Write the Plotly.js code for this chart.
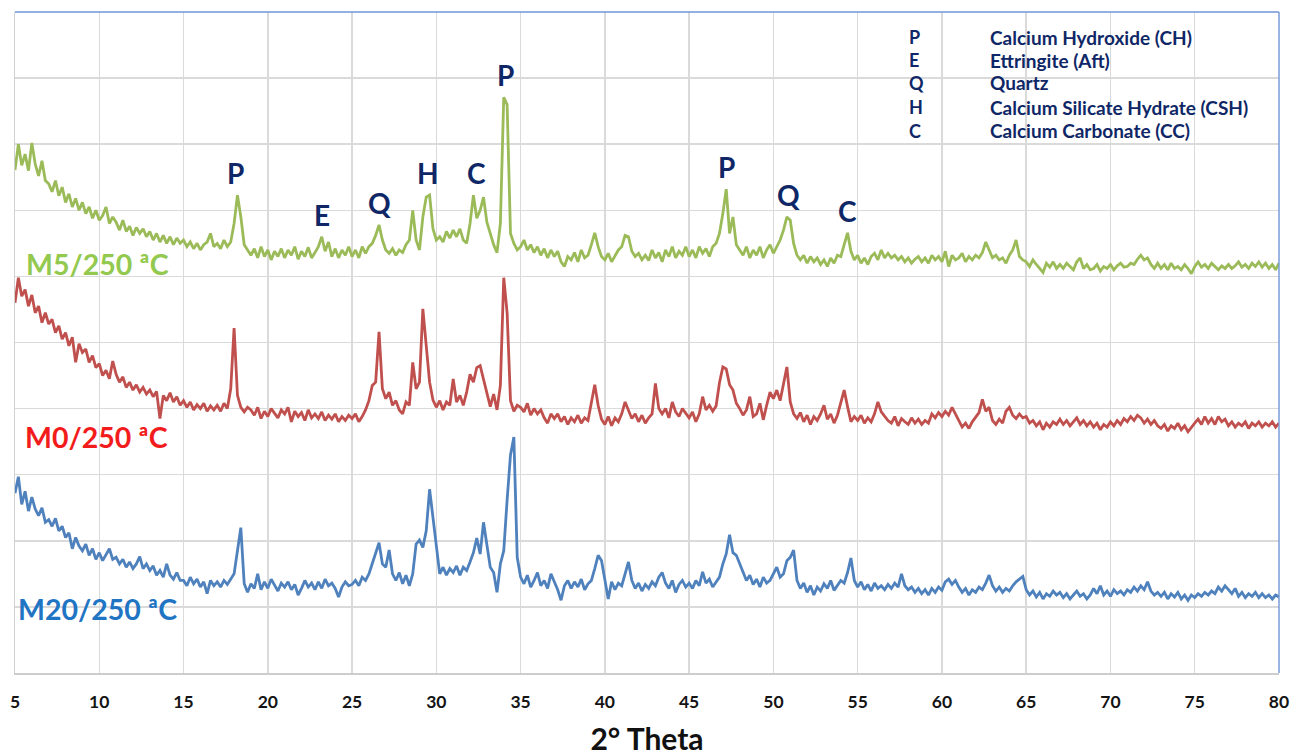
<!DOCTYPE html>
<html>
<head>
<meta charset="utf-8">
<script src="https://cdn.plot.ly/plotly-3.0.1.min.js"></script>
<style>
  html, body { margin: 0; padding: 0; background: #ffffff; }
  #chart { width: 1293px; height: 756px; }
</style>
</head>
<body>
<div id="chart"></div>
<script>
// XRD patterns of the three mixes after exposure to 250 °C.
// Intensities are relative (arbitrary units), sampled every 0.2° of 2θ from 5° to 80°.
const START_ANGLE = 5;
const STEP = 0.2;

const m5 = [
  761,800,768,785,760,802,770,752,775,745,
  740,728,745,722,735,712,725,705,718,700,
  712,695,705,688,700,685,692,705,680,690,
  682,670,685,668,676,662,674,665,672,660,
  668,655,665,652,662,650,660,648,658,650,
  655,645,652,642,650,640,648,652,665,645,
  650,642,655,645,652,680,723,690,648,640,
  632,642,628,645,630,640,625,638,630,642,
  628,640,632,645,626,638,630,644,628,636,
  645,660,638,652,630,642,628,640,632,645,
  630,640,628,645,635,645,650,662,678,655,
  640,635,642,632,640,636,648,655,700,655,
  640,690,720,723,672,655,660,652,668,658,
  670,660,672,655,650,680,723,688,700,720,
  682,665,648,636,680,871,860,665,650,640,
  645,655,640,648,636,645,632,642,628,640,
  630,638,622,615,630,625,636,622,640,628,
  632,648,666,645,630,625,635,622,632,640,
  645,662,660,638,630,635,625,632,624,640,
  628,636,622,640,630,645,628,638,632,645,
  630,640,628,645,635,642,630,645,650,665,
  695,732,665,690,648,640,632,645,628,640,
  632,645,628,640,648,635,645,655,670,690,
  685,650,632,625,632,620,630,622,628,618,
  625,615,628,620,632,630,648,666,638,625,
  632,620,628,618,630,635,625,640,628,635,
  628,632,625,630,622,628,620,626,630,622,
  628,620,632,625,630,622,638,615,632,625,
  628,635,622,630,625,632,628,636,652,640,
  628,632,625,628,620,632,640,655,630,625,
  622,615,625,618,612,606,620,614,622,612,
  618,612,620,615,610,622,628,612,618,610,
  612,618,608,615,612,618,610,616,620,614,
  615,620,618,626,632,625,628,618,612,620,
  612,618,610,620,612,615,610,618,612,604,
  615,622,614,618,612,620,615,610,616,612,
  618,612,616,622,614,618,612,620,615,622,
  614,620,612,618,610,620
];

const m0 = [
  560,598,570,580,555,572,545,555,530,545,
  528,535,515,525,505,515,495,508,470,498,
  485,490,470,480,462,468,450,458,445,472,
  452,440,448,432,440,428,436,425,432,422,
  428,418,426,385,420,412,424,410,418,405,
  412,402,410,398,406,400,408,396,404,398,
  405,396,408,400,430,522,420,402,395,402,
  398,390,402,385,396,388,400,392,386,398,
  392,402,380,396,388,394,382,398,386,392,
  385,395,382,390,384,392,380,388,382,390,
  385,392,380,388,398,412,435,440,516,430,
  415,425,405,412,398,392,410,405,470,430,
  440,551,500,440,413,402,412,398,410,405,
  445,410,420,405,425,452,440,462,465,445,
  424,403,422,398,435,598,545,412,396,405,
  402,395,408,390,400,392,398,386,378,392,
  385,392,380,388,376,386,380,390,378,386,
  382,410,436,405,384,376,388,374,386,380,
  392,410,398,385,392,380,390,378,386,392,
  438,400,392,400,386,410,395,388,400,392,
  386,395,380,392,418,398,405,396,404,439,
  463,460,436,428,408,400,390,398,418,388,
  392,408,383,405,425,415,428,412,440,463,
  410,392,385,394,380,390,376,388,382,392,
  405,384,392,378,390,410,428,403,380,388,
  382,390,378,386,380,392,410,395,388,382,
  378,388,374,385,380,376,386,378,384,376,
  382,378,392,386,394,388,396,390,402,392,
  380,372,378,370,380,388,394,414,396,402,
  382,376,384,378,396,402,390,385,392,386,
  388,378,382,374,380,368,378,372,380,376,
  384,376,382,374,380,386,376,382,374,380,
  372,378,368,376,372,380,374,382,376,385,
  380,388,382,390,386,378,384,376,382,374,
  370,376,366,374,370,378,368,374,365,372,
  378,384,376,388,378,385,376,388,380,384,
  374,380,372,378,374,380,370,378,374,380,
  372,378,374,380,372,378
];

const m20 = [
  272,297,255,275,245,266,248,238,250,228,
  232,222,234,215,222,205,212,188,205,192,
  185,195,178,188,172,182,170,178,188,172,
  175,165,172,160,168,158,165,176,158,165,
  155,162,148,155,145,165,148,142,152,140,
  140,132,145,135,142,130,138,120,140,132,
  138,130,140,134,142,150,185,220,135,122,
  135,128,150,126,138,128,142,132,124,136,
  130,138,126,134,118,128,140,130,136,126,
  138,128,142,132,136,128,115,130,138,132,
  134,140,132,145,140,150,165,182,197,165,
  160,186,150,140,152,135,148,132,150,195,
  201,190,215,278,236,185,150,160,148,158,
  152,162,148,160,155,168,182,204,180,228,
  190,160,152,122,165,185,262,330,357,175,
  145,135,148,130,140,152,132,140,128,150,
  138,126,110,132,140,128,138,130,142,126,
  135,140,158,178,170,140,112,138,126,136,
  132,150,168,140,128,136,124,134,128,138,
  132,145,152,136,128,140,122,134,140,130,
  136,128,140,132,153,136,142,130,138,145,
  165,180,209,182,178,165,150,140,148,134,
  142,130,145,136,140,150,160,145,150,170,
  175,186,140,128,136,122,132,118,130,124,
  135,128,140,125,132,140,136,152,174,140,
  130,138,126,134,124,136,128,132,126,134,
  128,136,130,150,132,126,130,122,128,120,
  126,118,128,122,130,125,138,142,134,140,
  130,122,128,118,126,122,130,126,136,148,
  132,124,130,122,128,124,132,138,142,146,
  126,118,124,115,122,112,120,116,124,118,
  122,114,120,112,118,124,116,120,112,118,
  128,120,132,118,124,116,126,120,124,118,
  126,122,130,124,132,126,138,124,118,122,
  116,122,112,120,115,122,112,118,110,118,
  114,120,116,122,118,124,120,130,124,132,
  126,120,128,116,122,114,120,116,122,114,
  120,114,118,112,118,115
];

const seriesNames = ['M5/250 ªC', 'M0/250 ªC', 'M20/250 ªC'];

// Phase identification marks above the M5 pattern
const phaseLetters = ['P', 'E', 'Q', 'H', 'C', 'P', 'P', 'Q', 'C'];
const phaseAngles  = [18.1, 23.2, 26.6, 29.5, 32.4, 34.1, 47.2, 50.9, 54.4];

// Key of the phase letters
const keyLetters = ['P', 'E', 'Q', 'H', 'C'];
const keyPhases  = ['Calcium Hydroxide (CH)', 'Ettringite (Aft)', 'Quartz',
                    'Calcium Silicate Hydrate (CSH)', 'Calcium Carbonate (CC)'];

const xTicks = [5, 10, 15, 20, 25, 30, 35, 40, 45, 50, 55, 60, 65, 70, 75, 80];

// ---------------------------------------------------------------------------
const twoTheta = m5.map((_, i) => +(START_ANGLE + i * STEP).toFixed(1));

const FONT = 'Lato, "Open Sans", sans-serif';
const NAVY = '#0F2766';

const styles = [
  { data: m5,  line: '#9BBB59', label: '#92C94E' },
  { data: m0,  line: '#C0504D', label: '#F21C1C' },
  { data: m20, line: '#4F81BD', label: '#1F74C4' }
];

const traces = styles.map((s, k) => ({
  type: 'scatter',
  mode: 'lines',
  name: seriesNames[k],
  x: twoTheta,
  y: s.data,
  line: { color: s.line, width: 2.8 },
  hoverinfo: 'skip'
}));

// highest M5 intensity close to an angle, so a letter can sit on its peak
function peakTop(angle) {
  let best = -Infinity;
  twoTheta.forEach((a, i) => {
    if (Math.abs(a - angle) <= 0.31 && m5[i] > best) best = m5[i];
  });
  return best;
}

const annotations = [];

phaseLetters.forEach((letter, i) => {
  annotations.push({
    x: phaseAngles[i], y: peakTop(phaseAngles[i]), xref: 'x', yref: 'y',
    text: letter, showarrow: false, xanchor: 'center', yanchor: 'bottom', yshift: 3,
    font: { family: FONT, size: 28, color: NAVY, weight: 700 }
  });
});

// series captions at the left edge
const captionSpots = [
  { x: 5.55, y: 619 },
  { x: 5.45, y: 357 },
  { x: 5.05, y: 97 }
];
seriesNames.forEach((name, k) => {
  annotations.push({
    x: captionSpots[k].x, y: captionSpots[k].y, xref: 'x', yref: 'y',
    text: name, showarrow: false, xanchor: 'left', yanchor: 'middle',
    font: { family: FONT, size: 28.5, color: styles[k].label, weight: 700 }
  });
});

// phase key, top right
const keyRows = [0.962, 0.927, 0.893, 0.856, 0.820];
keyLetters.forEach((letter, i) => {
  annotations.push({
    x: 0.7055, y: keyRows[i], xref: 'paper', yref: 'paper',
    text: letter, showarrow: false, xanchor: 'left', yanchor: 'middle',
    font: { family: FONT, size: 18, color: NAVY, weight: 700 }
  });
  annotations.push({
    x: 0.770, y: keyRows[i], xref: 'paper', yref: 'paper',
    text: keyPhases[i], showarrow: false, xanchor: 'left', yanchor: 'middle',
    font: { family: FONT, size: 19, color: NAVY, weight: 700 }
  });
});

const layout = {
  width: 1293,
  height: 756,
  margin: { l: 15, r: 14, t: 12, b: 83 },
  paper_bgcolor: '#ffffff',
  plot_bgcolor: '#ffffff',
  showlegend: false,
  hovermode: false,
  font: { family: FONT, color: '#111111' },
  xaxis: {
    range: [5, 80],
    tickvals: xTicks,
    ticktext: xTicks.map(String),
    showgrid: true,
    gridcolor: '#DADADA',
    gridwidth: 1.5,
    zeroline: false,
    showline: true,
    linecolor: '#CDCDCD',
    linewidth: 2,
    ticks: 'outside',
    ticklen: 12,
    tickcolor: 'rgba(0,0,0,0)',
    tickfont: { family: FONT, size: 17.5, color: '#141414', weight: 700 },
    automargin: false,
    title: {
      text: '2° Theta',
      standoff: 26,
      font: { family: FONT, size: 30, color: '#111111', weight: 700 }
    }
  },
  yaxis: {
    range: [0, 1000],
    dtick: 100,
    showticklabels: false,
    ticks: '',
    showgrid: true,
    gridcolor: '#DADADA',
    gridwidth: 1.5,
    zeroline: false,
    showline: true,
    linecolor: '#D0D0D0',
    linewidth: 1.5,
    automargin: false
  },
  shapes: [
    { type: 'line', xref: 'paper', yref: 'paper', x0: 0, x1: 1, y0: 1, y1: 1,
      line: { color: '#6F96D6', width: 1.4 }, layer: 'above' },
    { type: 'line', xref: 'paper', yref: 'paper', x0: 1, x1: 1, y0: 0, y1: 1,
      line: { color: '#6F96D6', width: 1.4 }, layer: 'above' }
  ],
  annotations: annotations
};

Plotly.newPlot('chart', traces, layout, { staticPlot: true, displayModeBar: false });
</script>
</body>
</html>
